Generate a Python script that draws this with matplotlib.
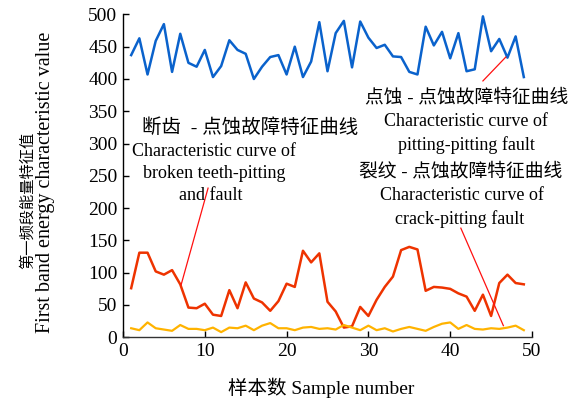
import matplotlib
matplotlib.use("Agg")
import matplotlib.pyplot as plt
import numpy as np

plt.rcParams['font.family'] = ['Liberation Serif', 'Noto Sans CJK SC']

samples = list(range(1, 50))
pitting = [437, 463, 407, 459, 485, 411, 470, 425, 419, 445, 403, 420, 460, 445, 439, 400,
           419, 434, 437, 407, 450, 403, 427, 488, 412, 471, 490, 418, 489, 464, 448, 453,
           435, 434, 411, 407, 481, 452, 473, 432, 471, 412, 415, 497, 443, 462, 433, 466, 403]
broken = [76, 131, 131, 102, 97, 104, 82, 46, 45, 52, 35, 33, 73, 45, 85, 60, 54, 41, 56,
          83, 78, 134, 116, 130, 55, 40, 15, 17, 47, 33, 58, 78, 94, 135, 140, 136, 72, 78,
          77, 75, 68, 63, 41, 66, 33, 84, 97, 84, 82]
crack = [14, 11, 23, 14, 12, 10, 19, 13, 13, 11, 15, 8, 15, 14, 18, 11, 18, 22, 14, 14, 11,
         15, 16, 13, 14, 12, 19, 15, 11, 18, 11, 14, 9, 13, 16, 13, 10, 16, 21, 23, 13, 19,
         13, 12, 14, 13, 15, 18, 11]
xticks = [0, 10, 20, 30, 40, 50]
yticks = [0, 50, 100, 150, 200, 250, 300, 350, 400, 450, 500]

fig = plt.figure(figsize=(5.71, 4.05), dpi=100)
ax = fig.add_axes([0.2154, 0.1672, 0.7163, 0.7972])

ax.plot(samples, pitting, color='#0a62cc', lw=1.8)
ax.plot(samples, broken, color='#ee3300', lw=1.8)
ax.plot(samples, crack, color='#ffb300', lw=1.6)

ax.set_xlim(0, 50)
ax.set_ylim(0, 500)
ax.set_xticks(xticks)
ax.set_yticks(yticks)
ax.tick_params(direction='in', length=4, width=1, labelsize=14, pad=4)
for s in ['top', 'right']:
    ax.spines[s].set_visible(False)
ax.spines['left'].set_linewidth(1.0)
ax.spines['bottom'].set_linewidth(1.0)
ax.spines['bottom'].set_color('#333333')

# annotation leader lines
ax.plot([10.4, 7.1], [231, 81], color='#ff1010', lw=0.9)
ax.plot([44.0, 46.8], [397, 434], color='#ff1010', lw=0.9)
ax.plot([41.3, 46.5], [169, 18], color='#ff1010', lw=0.9)

def ftxt(px, py, s, fs=13):
    fig.text(px / 571, 1 - py / 405, s, ha='center', va='center', fontsize=fs)

ftxt(467, 98, '点蚀 - 点蚀故障特征曲线', 13.5)
ftxt(466, 122, 'Characteristic curve of')
ftxt(466, 145, 'pitting-pitting fault')

ftxt(250, 128, '断齿  - 点蚀故障特征曲线', 14)
ftxt(214, 151, 'Characteristic curve of')
ftxt(214, 174, 'broken teeth-pitting')
ftxt(211, 196, 'and fault')

ftxt(461, 172, '裂纹 - 点蚀故障特征曲线', 13.5)
ftxt(462, 196, 'Characteristic curve of')
ftxt(460, 219, 'crack-pitting fault')

fig.text(28 / 571, 1 - 200 / 405, '第一频段能量特征值', rotation=90, ha='center', va='center', fontsize=11)
fig.text(46 / 571, 1 - 182 / 405, 'First band energy characteristic value', rotation=90,
         ha='center', va='center', fontsize=14.5)
fig.text(321 / 571, 1 - 388 / 405, '样本数 Sample number', ha='center', va='center', fontsize=14)

fig.savefig('out.png', dpi=100)
